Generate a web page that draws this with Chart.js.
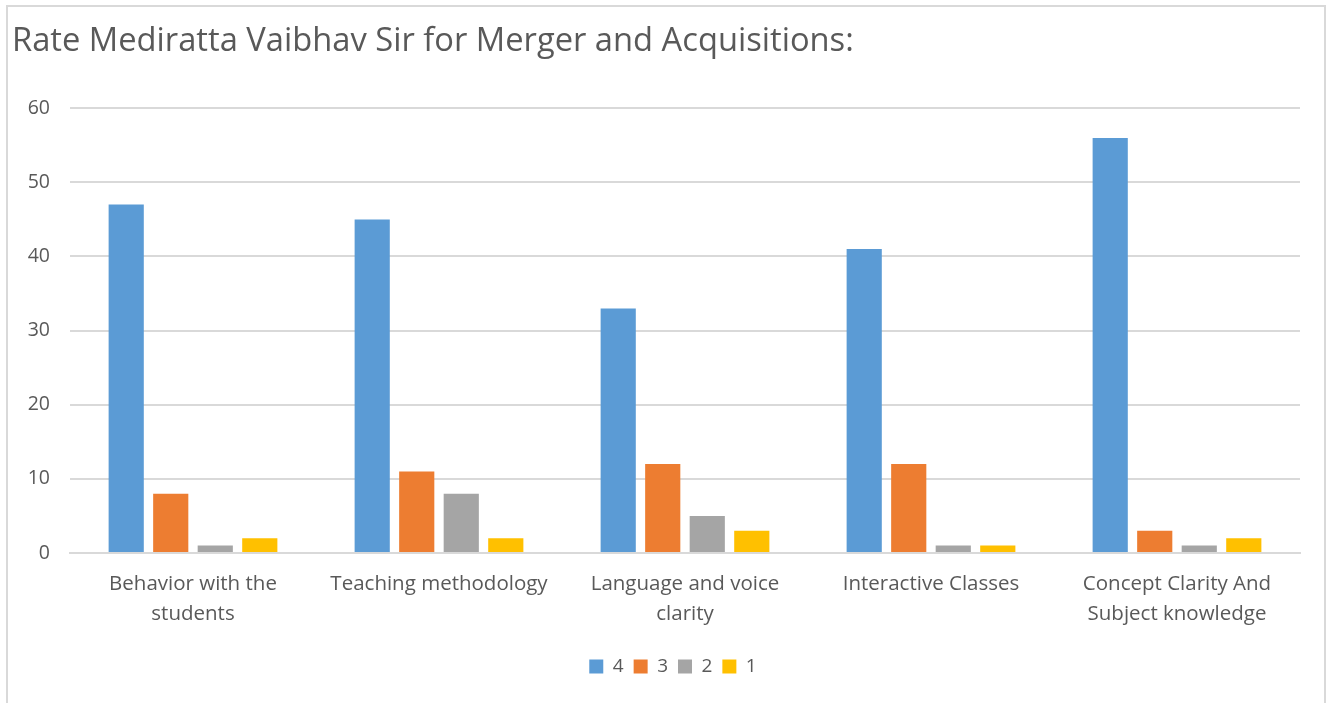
<!DOCTYPE html>
<html>
<head>
<meta charset="utf-8">
<script src="https://cdn.jsdelivr.net/npm/chart.js@4.4.0/dist/chart.umd.min.js"></script>
<style>
  html,body{margin:0;padding:0;background:#fff;overflow:hidden;}
  #wrap{position:absolute;left:0;top:0;width:1333px;height:703px;}
  #frame{position:absolute;left:6px;top:5px;width:1320px;height:720px;border:2px solid #d9d9d9;box-sizing:border-box;pointer-events:none;}
</style>
</head>
<body>
<div id="wrap"><canvas id="c" width="1333" height="703"></canvas></div>
<div id="frame"></div>
<script>
const titleText = "Rate Mediratta Vaibhav Sir for Merger and Acquisitions:";
const categories = [
  ["Behavior with the", "students"],
  ["Teaching methodology"],
  ["Language and voice", "clarity"],
  ["Interactive Classes"],
  ["Concept Clarity And", "Subject knowledge"]
];
const seriesNames = ["4", "3", "2", "1"];
const s4 = [47, 45, 33, 41, 56];
const s3 = [8, 11, 12, 12, 3];
const s2 = [1, 8, 5, 1, 1];
const s1 = [2, 2, 3, 1, 2];
const colors = ["#5b9bd5", "#ed7d31", "#a5a5a5", "#ffc000"];
const yTicks = [0, 10, 20, 30, 40, 50, 60];

const FONT = "'Open Sans', Lato, sans-serif";
const GREY = "#595959";

const legendShift = {
  id: 'legendShift',
  afterLayout(chart) {
    if (chart.legend) { chart.legend.left += 17; chart.legend.right += 17; }
  }
};

new Chart(document.getElementById('c'), {
  type: 'bar',
  data: {
    labels: categories,
    datasets: [s4, s3, s2, s1].map((d, i) => ({
      label: seriesNames[i],
      data: d,
      backgroundColor: colors[i],
      borderWidth: 0,
      categoryPercentage: 0.724,
      barPercentage: 0.79
    }))
  },
  plugins: [legendShift],
  options: {
    responsive: false,
    animation: false,
    devicePixelRatio: 1,
    layout: { padding: { left: 12, right: 33, top: 0, bottom: 17 } },
    plugins: {
      title: {
        display: true,
        text: titleText,
        align: 'start',
        color: GREY,
        font: { family: FONT, size: 32.7, weight: 'normal' },
        padding: { top: 22, bottom: 47 }
      },
      legend: {
        display: true,
        position: 'bottom',
        labels: {
          color: GREY,
          font: { family: FONT, size: 19 },
          boxWidth: 14,
          boxHeight: 14,
          padding: 10
        }
      },
      tooltip: { enabled: false }
    },
    scales: {
      x: {
        grid: { display: false, drawTicks: false },
        border: { display: true, color: "#d9d9d9", width: 2 },
        afterFit: (s) => { s.height += 1; },
        ticks: {
          color: GREY,
          font: { family: FONT, size: 20.5, lineHeight: 1.463 },
          padding: 16.5,
          maxRotation: 0,
          autoSkip: false
        }
      },
      y: {
        min: 0,
        max: 60,
        afterBuildTicks: (s) => { s.ticks = yTicks.map(v => ({ value: v })); },
        afterFit: (s) => { s.width = 58; },
        grid: { color: "#d9d9d9", lineWidth: 2, drawTicks: false },
        border: { display: false },
        ticks: {
          color: GREY,
          font: { family: FONT, size: 19.5 },
          padding: 20
        }
      }
    }
  }
});
</script>
</body>
</html>
